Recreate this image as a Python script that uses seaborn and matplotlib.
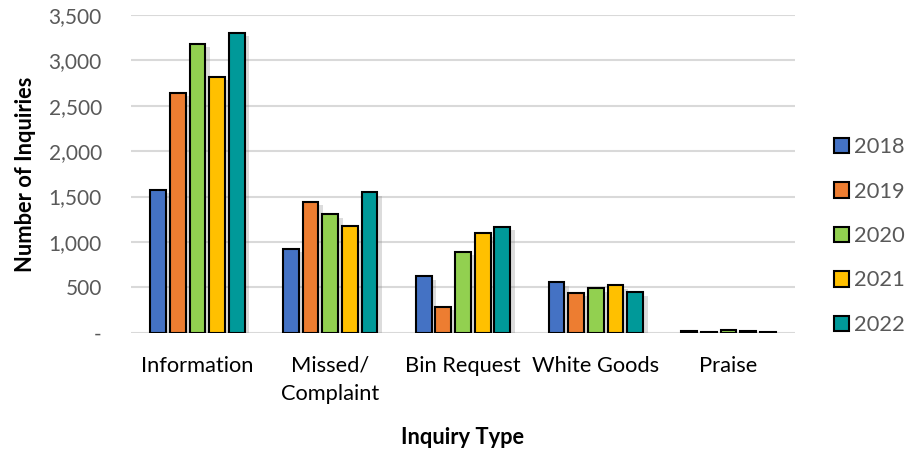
import matplotlib
matplotlib.use("Agg")
import matplotlib.pyplot as plt
import matplotlib.patheffects as pe
from matplotlib.patches import Patch
from matplotlib.ticker import FuncFormatter, MultipleLocator
import seaborn as sns
import pandas as pd

# Inquiry counts by type and year
categories = ["Information", "Missed/\nComplaint", "Bin Request", "White Goods", "Praise"]
years = ["2018", "2019", "2020", "2021", "2022"]
inq_2018 = [1575, 925, 620, 555, 18]
inq_2019 = [2645, 1440, 285, 440, 12]
inq_2020 = [3180, 1305, 890, 490, 25]
inq_2021 = [2820, 1170, 1095, 520, 15]
inq_2022 = [3300, 1545, 1165, 445, 8]
year_colors = ["#4472C4", "#ED7D31", "#92D050", "#FFC000", "#009999"]

series = [inq_2018, inq_2019, inq_2020, inq_2021, inq_2022]
df = pd.DataFrame(
    [(c, y, v) for y, vals in zip(years, series) for c, v in zip(categories, vals)],
    columns=["Inquiry Type", "Year", "Inquiries"],
)

sns.set_theme(style="white")
plt.rcParams["font.family"] = ["Lato", "DejaVu Sans"]

fig = plt.figure(figsize=(906 / 150, 449 / 150), dpi=150)
ax = fig.add_axes([131 / 906, 1 - 332.7 / 449, 664 / 906, 317.7 / 449])

sns.barplot(
    data=df, x="Inquiry Type", y="Inquiries", hue="Year",
    order=categories, hue_order=years, palette=year_colors,
    width=0.74, gap=0.2, edgecolor="black", linewidth=1.0,
    saturation=1, legend=False, ax=ax, zorder=3,
)

shadow = [pe.SimplePatchShadow(offset=(2.2, -1.6), shadow_rgbFace="#8C8C8C", alpha=0.3), pe.Normal()]
for bar in ax.patches:
    bar.set_path_effects(shadow)

ax.set_xlim(-0.5, 4.5)
ax.set_ylim(0, 3500)
ax.yaxis.set_major_locator(MultipleLocator(500))
ax.yaxis.set_major_formatter(FuncFormatter(lambda v, _: "-" if v == 0 else f"{v:,.0f}"))
ax.grid(axis="y", color="#D9D9D9", linewidth=1.0, zorder=0)
ax.grid(axis="x", visible=False)
for s in ax.spines.values():
    s.set_visible(False)

ax.tick_params(axis="y", length=0, pad=14, labelsize=10, labelcolor="#595959")
ax.tick_params(axis="x", length=0, pad=11, labelsize=10.5, labelcolor="black")
for lbl in ax.get_xticklabels():
    lbl.set_linespacing(1.5)

ax.set_ylabel("Number of Inquiries", fontsize=10.5, fontweight="bold", color="black", labelpad=6)
ax.set_xlabel("Inquiry Type", fontsize=10.5, fontweight="bold", color="black", labelpad=11)

handles = [Patch(facecolor=c, edgecolor="black", linewidth=1.0) for c in year_colors]
fig.legend(
    handles, years, loc="center left", bbox_to_anchor=(834 / 906, 1 - 236 / 449),
    frameon=False, fontsize=10.5, labelcolor="#595959",
    handlelength=0.7, handleheight=0.7, handletextpad=0.2, labelspacing=1.12,
    borderaxespad=0, borderpad=0,
)

fig.savefig("out.png", dpi=150)
